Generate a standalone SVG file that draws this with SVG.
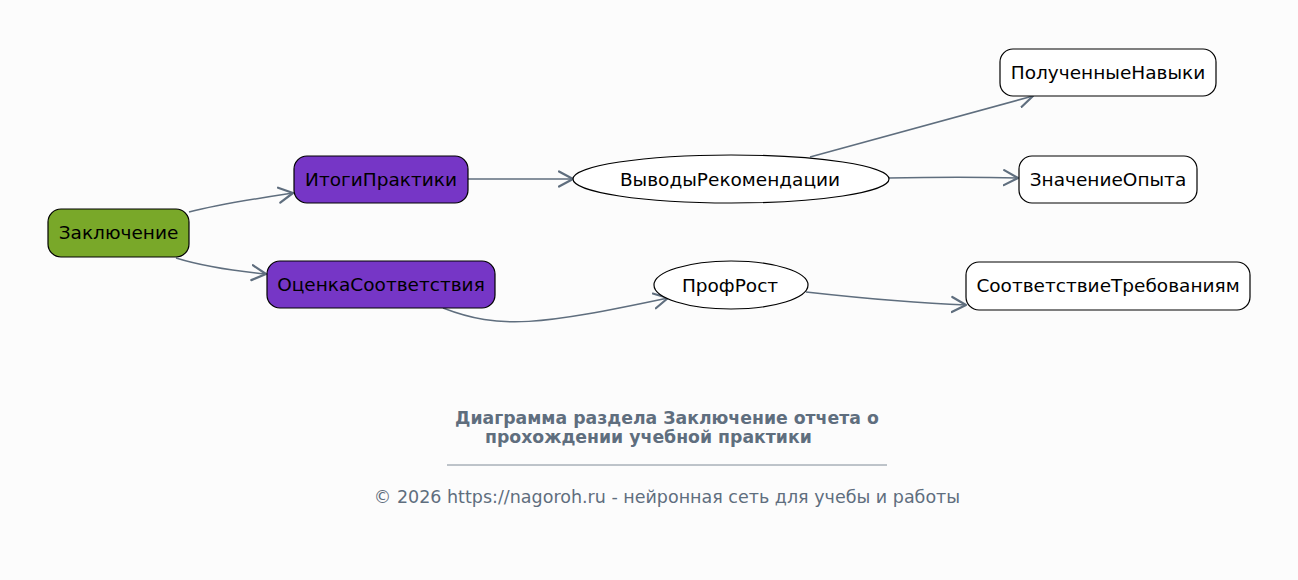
<svg xmlns="http://www.w3.org/2000/svg" width="1298" height="580" viewBox="0 0 1298 580">
<defs>
<marker id="arr" markerUnits="userSpaceOnUse" markerWidth="22" markerHeight="22" refX="15" refY="8.5" orient="auto" viewBox="0 0 22 17">
<path d="M1,1 L15,8.5 L1,16" fill="none" stroke="#5f6e7e" stroke-width="2.2" stroke-linecap="round" stroke-linejoin="round"/>
</marker>
<style>
.n{stroke:#000;stroke-width:1.2}
.g{fill:#79a829}
.p{fill:#7636c6}
.w{fill:#fff}
.t{font-family:"DejaVu Sans",sans-serif;font-size:18.5px;fill:#000;text-anchor:middle;dominant-baseline:central}
.e{fill:none;stroke:#5f6e7e;stroke-width:1.5;marker-end:url(#arr)}
.title{font-family:"DejaVu Sans",sans-serif;font-size:17.3px;font-weight:bold;fill:#5f6e7e}
.foot{font-family:"DejaVu Sans",sans-serif;font-size:17.5px;fill:#5f6e7e;text-anchor:middle}
</style>
</defs>
<rect width="1298" height="580" fill="#fcfcfc"/>
<g id="connectors">
<path class="e" d="M189,212 C220,204 260,198 293,193"/>
<path class="e" d="M176,258 C205,267 235,271 266,274"/>
<path class="e" d="M468,179 L573,179"/>
<path class="e" d="M810,157 L1033,96"/>
<path class="e" d="M888,178 C940,177 980,177 1018,178"/>
<path class="e" d="M443,308 C500,330 540,325 668,298"/>
<path class="e" d="M806,292 C860,298 910,303 966,305"/>
</g>
<g id="n-zakl"><rect class="n g" x="48" y="209" width="141" height="48" rx="13"/><text class="t" x="118.5" y="232">Заключение</text></g>
<g id="n-itogi"><rect class="n p" x="294" y="156" width="174" height="47" rx="13"/><text class="t" x="381" y="179">ИтогиПрактики</text></g>
<g id="n-ocenka"><rect class="n p" x="267" y="261" width="228" height="47" rx="13"/><text class="t" x="381" y="284">ОценкаСоответствия</text></g>
<g id="n-vyvody"><ellipse class="n w" cx="731" cy="179" rx="158" ry="24"/><text class="t" x="730" y="179">ВыводыРекомендации</text></g>
<g id="n-prof"><ellipse class="n w" cx="731" cy="285" rx="77" ry="24"/><text class="t" x="730" y="285">ПрофРост</text></g>
<g id="n-navyki"><rect class="n w" x="1000" y="49" width="216" height="47" rx="13"/><text class="t" x="1108" y="72">ПолученныеНавыки</text></g>
<g id="n-znach"><rect class="n w" x="1019" y="156" width="178" height="47" rx="13"/><text class="t" x="1108" y="179">ЗначениеОпыта</text></g>
<g id="n-sootv"><rect class="n w" x="966" y="262" width="284" height="48" rx="13"/><text class="t" x="1108" y="285">СоответствиеТребованиям</text></g>
<g id="footer">
<text class="title" x="455" y="424">Диаграмма раздела Заключение отчета о</text>
<text class="title" x="485" y="443">прохождении учебной практики</text>
<line x1="447" y1="465" x2="887" y2="465" stroke="#5f6e7e" stroke-width="0.8"/>
<text class="foot" x="667" y="503">© 2026 https://nagoroh.ru - нейронная сеть для учебы и работы</text>
</g>
</svg>
